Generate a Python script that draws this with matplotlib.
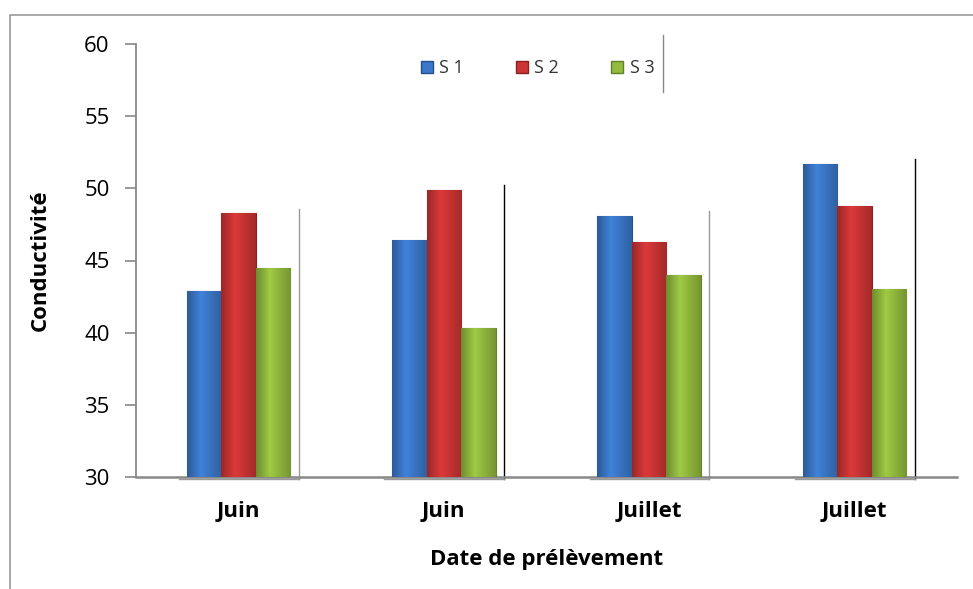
import numpy as np
import matplotlib
matplotlib.use("Agg")
import matplotlib.pyplot as plt
from matplotlib.lines import Line2D
from matplotlib.colors import to_rgb

plt.rcParams['font.family'] = ['Open Sans', 'DejaVu Sans']

# ── データ ─────────────────────────────────
categories = ['Juin', 'Juin', 'Juillet', 'Juillet']
series_names = ['S 1', 'S 2', 'S 3']
s1 = [42.9, 46.4, 48.1, 51.7]
s2 = [48.3, 49.9, 46.3, 48.8]
s3 = [44.5, 40.3, 44.0, 43.0]

colors = ['#3b78c9', '#cc3535', '#93bb3f']
edges = ['#25508c', '#8c2020', '#62822a']

fig = plt.figure(figsize=(9.73, 5.89), dpi=100, facecolor='white')
ax = fig.add_axes([136 / 973, 1 - 477 / 589, 821 / 973, 433 / 589])

x = np.arange(len(categories)) + 0.5
w = 0.168


def shade(c, f):
    r = np.array(to_rgb(c))
    return np.clip(r * f, 0, 1)


for i, (vals, c, e) in enumerate(zip([s1, s2, s3], colors, edges)):
    bars = ax.bar(x + (i - 1) * w, np.array(vals) - 30, w, bottom=30,
                  color=c, edgecolor=e, linewidth=0.8, zorder=3)
    # 横方向グラデーション (立体っぽく)
    prof = np.concatenate([np.linspace(0.75, 1.08, 40), np.linspace(1.08, 0.8, 60)])
    grad = np.array([shade(c, f) for f in prof])[None, :, :]
    for b in bars:
        bx, by = b.get_x(), b.get_y()
        im = ax.imshow(grad, extent=[bx, bx + b.get_width(), by, by + b.get_height()],
                       aspect='auto', zorder=3.5, interpolation='bilinear')
        im.set_clip_path(b)

# 枠線の名残 (各グループ右の縦線と下の短い線)
tops = np.max([s1, s2, s3], axis=0)
for k, (xc, t) in enumerate(zip(x, tops)):
    col = '#999999' if k % 2 == 0 else 'black'
    ax.plot([xc + 0.294, xc + 0.294], [29.85, t + 0.3], color=col, lw=1.0,
            clip_on=False, zorder=2)
    ax.plot([xc - 0.29, xc + 0.294], [29.85, 29.85], color='#999999', lw=1.0,
            clip_on=False, zorder=2)

ax.set_xlim(0, 4)
ax.set_ylim(30, 60)
ax.set_yticks(range(30, 61, 5))
ax.set_xticks(x)
ax.set_xticklabels(categories, fontsize=16, fontweight='bold')
ax.tick_params(axis='x', length=0, pad=17)
ax.tick_params(axis='y', labelsize=16, length=8, width=1.2, color='#888888', pad=11)
for s in ['top', 'right']:
    ax.spines[s].set_visible(False)
ax.spines['left'].set_color('#888888')
ax.spines['left'].set_linewidth(1.3)
ax.spines['bottom'].set_color('#888888')
ax.spines['bottom'].set_linewidth(1.8)

ax.set_ylabel('Conductivité', fontsize=16, fontweight='bold', labelpad=24)
ax.set_xlabel('Date de prélèvement', fontsize=16, fontweight='bold', labelpad=20)

handles = [Line2D([0], [0], marker='s', ls='', markersize=8, markerfacecolor=c,
                  markeredgecolor=e) for c, e in zip(colors, edges)]
leg = ax.legend(handles, series_names, loc='center',
                bbox_to_anchor=(536 / 973, 1 - 68 / 589),
                bbox_transform=fig.transFigure, ncol=3, frameon=False, fontsize=13,
                columnspacing=2.7, handletextpad=0.2, handlelength=1.0)
for t in leg.get_texts():
    t.set_color('#333333')
fig.add_artist(Line2D([663 / 973, 663 / 973], [1 - 35 / 589, 1 - 92 / 589],
                      color='#888888', lw=1.0))

# 外枠
fig.add_artist(Line2D([10 / 973, 10 / 973, 1.0], [0, 1 - 15 / 589, 1 - 15 / 589],
                      color='#999999', lw=1.2))

plt.savefig('out.png', dpi=100, facecolor='white')
plt.close()
